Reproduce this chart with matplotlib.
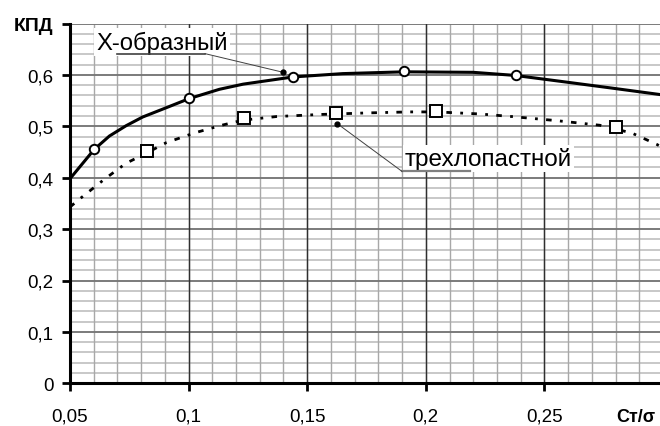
import matplotlib
matplotlib.use("Agg")
import matplotlib.pyplot as plt
from matplotlib.ticker import FixedLocator
import numpy as np

plt.rcParams['font.family'] = ['Liberation Sans', 'DejaVu Sans']

# measured data points (markers)
x_circ = [0.060, 0.100, 0.144, 0.191, 0.238]
y_circ = [0.455, 0.555, 0.596, 0.607, 0.599]
x_sq = [0.0825, 0.1235, 0.162, 0.2045, 0.280]
y_sq = [0.451, 0.516, 0.525, 0.529, 0.498]

# trend curves
xc_line = [0.050, 0.0602, 0.0666, 0.0736, 0.0806, 0.0905, 0.1003, 0.113, 0.123,
           0.144, 0.165, 0.191, 0.220, 0.2376, 0.2566, 0.2777, 0.300]
yc_line = [0.398, 0.455, 0.481, 0.501, 0.518, 0.536, 0.554, 0.572, 0.582,
           0.596, 0.6025, 0.606, 0.605, 0.599, 0.5876, 0.5748, 0.561]
xs_line = [0.050, 0.0539, 0.0645, 0.0736, 0.0827, 0.0905, 0.1024, 0.1139, 0.123,
           0.1371, 0.1554, 0.175, 0.1933, 0.2046, 0.2228, 0.2362, 0.2552, 0.2734,
           0.2868, 0.2973, 0.300]
ys_line = [0.343, 0.358, 0.397, 0.428, 0.449, 0.468, 0.487, 0.502, 0.512,
           0.519, 0.523, 0.526, 0.528, 0.528, 0.524, 0.519, 0.511, 0.502,
           0.487, 0.465, 0.458]

x_ticks = [0.05, 0.1, 0.15, 0.2, 0.25, 0.3]
x_labels = ['0,05', '0,1', '0,15', '0,2', '0,25', '']
y_ticks = [0, 0.1, 0.2, 0.3, 0.4, 0.5, 0.6, 0.7]
y_labels = ['0', '0,1', '0,2', '0,3', '0,4', '0,5', '0,6', 'КПД']

fig = plt.figure(figsize=(6.6, 4.27), dpi=100)
ax = fig.add_axes([70/660, 42.7/427, 593/660, 359.8/427])
ax.set_xlim(0.05, 0.3)
ax.set_ylim(0, 0.7)

ax.xaxis.set_major_locator(FixedLocator(x_ticks))
ax.yaxis.set_major_locator(FixedLocator(y_ticks))

# grid drawn manually so the darker major lines stay on top
for yv in np.arange(0.02, 0.70001, 0.02):
    ax.axhline(yv, color='#c4c4c4', lw=1.3, zorder=0.5)
for xv in np.arange(0.06, 0.30001, 0.01):
    ax.axvline(xv, color='#a8a8a8', lw=1.0, zorder=0.6)
for yv in y_ticks[1:]:
    ax.axhline(yv, color='#707070', lw=1.2, zorder=0.7)
for xv in x_ticks[1:]:
    ax.axvline(xv, color='#303030', lw=1.0, zorder=0.8)

for s in ['top', 'right']:
    ax.spines[s].set_visible(False)
for s in ['left', 'bottom']:
    ax.spines[s].set_linewidth(2.2)
    ax.spines[s].set_zorder(5)

ax.set_xticklabels(x_labels, fontsize=13.5)
ax.set_yticklabels(y_labels, fontsize=13.5)
ax.get_yticklabels()[-1].set_fontweight('bold')
ax.get_yticklabels()[-1].set_fontsize(14)
ax.tick_params(axis='both', which='major', direction='out', length=6, width=2)
ax.tick_params(axis='y', pad=6)
ax.tick_params(axis='x', pad=11.5)

# curves
ax.plot(xc_line, yc_line, color='black', lw=2.2, zorder=3)
ax.plot(xs_line, ys_line, color='black', lw=2.0, linestyle=(0, (2, 3, 1, 3)),
        zorder=3)
ax.plot(x_circ, y_circ, 'o', ms=6.8, mfc='white', mec='black', mew=1.4,
        zorder=6, clip_on=False)
ax.plot(x_sq, y_sq, 's', ms=8, mfc='white', mec='black', mew=1.4,
        zorder=6, clip_on=False)

# callout 1
ax.text(0.0612, 0.651, 'Х-образный', fontsize=17.2, va='baseline', ha='left',
        zorder=7, bbox=dict(facecolor='white', edgecolor='none', pad=1.5))
ax.plot([0.0698, 0.1069], [0.6414, 0.6414], color='#404040', lw=1.2, zorder=7)
ax.plot([0.1069, 0.1399], [0.6414, 0.605], color='#404040', lw=0.7, zorder=7)
ax.plot([0.1399], [0.605], 'o', ms=3.5, color='black', zorder=7)

# callout 2
ax.text(0.1912, 0.4245, 'трехлопастной', fontsize=17.5, va='baseline', ha='left',
        zorder=7, bbox=dict(facecolor='white', edgecolor='none', pad=1.5))
ax.plot([0.19, 0.2186], [0.4122, 0.4122], color='#808080', lw=1.6, zorder=7)
ax.plot([0.1626, 0.19], [0.5054, 0.4122], color='#404040', lw=0.7, zorder=7)
ax.plot([0.1626], [0.5054], 'o', ms=3.5, color='black', zorder=7)

fig.text(616/660, 1 - 422/427, 'Ст/σ', fontsize=13, fontweight='bold',
         ha='left', va='baseline')

fig.savefig('out.png', dpi=100)
